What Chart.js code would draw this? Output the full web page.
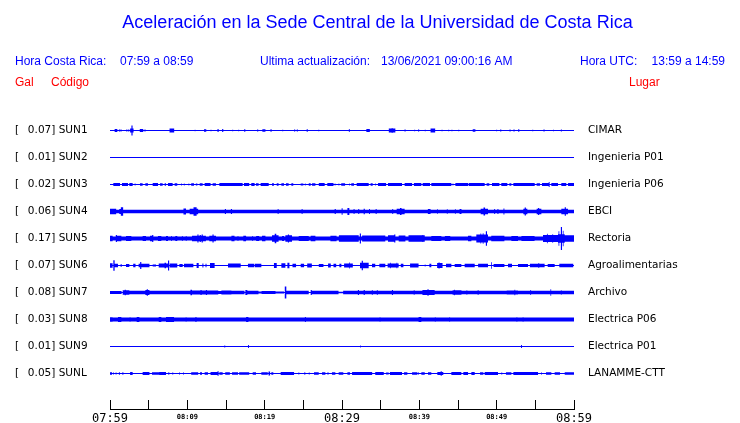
<!DOCTYPE html>
<html><head><meta charset="utf-8">
<script src="https://cdn.jsdelivr.net/npm/chart.js@4.4.1/dist/chart.umd.min.js"></script>
<style>html,body{margin:0;padding:0;background:#fff;}canvas{display:block;}</style>
</head><body>
<canvas id="c" width="740" height="423"></canvas>
<script>
// ---------------- data ----------------
const stations = ['SUN1','SUN2','SUN3','SUN4','SUN5','SUN6','SUN7','SUN8','SUN9','SUNL'];
const peakGal  = [0.07,0.01,0.02,0.06,0.17,0.07,0.08,0.03,0.01,0.05];
const places   = ['CIMAR','Ingenieria P01','Ingenieria P06','EBCI','Rectoria','Agroalimentarias','Archivo','Electrica P06','Electrica P01','LANAMME-CTT'];
const tickMinutes   = [0,5,10,15,20,25,30,35,40,45,50,55,60];
const labelMinutes  = [0,10,20,30,40,50,60];
const labelTimes    = ['07:59','08:09','08:19','08:29','08:39','08:49','08:59'];
const majorMinutes  = [0,30,60];

// envelopes: [start minute, end minute, half amplitude in Gal]
const SUN1 = [[0.6,0.95,0.021],[1.15,1.3,0.014],[1.35,1.5,0.014],[2.1,2.25,0.014],[2.35,2.5,0.014],[2.6,3.05,0.028],[2.77,2.92,0.07],[3.85,4.3,0.021],[4.45,4.6,0.014],[5.75,5.85,0.007],[7.7,8.3,0.028],[10.95,11.05,0.01],[12.15,12.45,0.018],[13.0,13.12,0.01],[13.9,14.05,0.021],[14.5,14.65,0.021],[15.8,15.93,0.01],[16.58,16.7,0.01],[17.35,17.5,0.018],[19.02,19.17,0.014],[19.7,20.1,0.018],[20.75,20.9,0.018],[22.27,22.4,0.01],[23.8,23.95,0.014],[24.15,24.3,0.014],[25.43,25.58,0.018],[26.93,27.06,0.01],[30.88,31.03,0.018],[33.15,33.6,0.021],[36.05,36.9,0.028],[36.4,36.6,0.032],[38.08,38.23,0.014],[39.33,39.46,0.01],[39.83,39.98,0.014],[40.7,40.83,0.01],[41.45,42.05,0.028],[42.87,43.0,0.01],[43.73,43.86,0.01],[44.15,44.28,0.01],[45.03,45.16,0.01],[46.9,47.25,0.018],[49.93,50.06,0.01],[50.45,50.6,0.014],[51.66,51.8,0.014],[52.17,52.32,0.014],[52.78,52.93,0.018],[54.6,54.73,0.01],[56.05,56.2,0.014],[57.27,57.4,0.01],[58.3,58.43,0.014]];
const SUN2 = [];
const SUN3 = [[0.43,1.29,0.021],[1.55,2.33,0.021],[2.5,2.93,0.021],[3.19,3.3,0.014],[3.88,4.22,0.018],[4.57,4.91,0.018],[5.52,6.21,0.021],[6.47,6.81,0.018],[7.07,7.24,0.018],[7.5,8.1,0.021],[8.36,8.7,0.018],[9.2,9.3,0.014],[9.55,9.65,0.014],[10.15,10.25,0.014],[10.5,10.86,0.018],[11.1,11.3,0.014],[11.6,11.98,0.018],[12.24,13.0,0.021],[13.27,13.7,0.018],[14.14,17.15,0.021],[17.33,18.0,0.021],[18.27,18.7,0.021],[18.88,19.22,0.018],[19.48,20.52,0.021],[20.95,21.2,0.018],[21.56,21.8,0.018],[22.16,22.5,0.018],[22.76,23.1,0.018],[23.45,23.7,0.018],[24.66,25.0,0.014],[25.2,25.3,0.014],[25.7,25.95,0.018],[26.13,26.56,0.018],[27.0,27.76,0.021],[28.1,28.9,0.021],[29.05,29.15,0.014],[29.55,29.65,0.014],[29.9,30.4,0.018],[30.9,31.0,0.014],[31.2,31.55,0.018],[31.9,33.45,0.021],[33.7,33.97,0.018],[34.3,34.4,0.014],[34.66,35.7,0.021],[35.95,37.76,0.021],[38.1,39.06,0.021],[39.3,40.26,0.021],[40.43,41.38,0.021],[41.55,44.14,0.021],[44.3,44.4,0.014],[44.66,46.3,0.021],[46.38,48.45,0.021],[48.7,49.05,0.018],[49.4,50.35,0.021],[50.6,51.38,0.021],[51.64,51.9,0.018],[52.16,54.92,0.021],[55.17,55.6,0.018],[55.86,56.73,0.021],[56.73,56.85,0.035],[57.07,57.93,0.021],[58.36,59.0,0.021],[59.23,60,0.021]];
const SUN4 = [[0,60,0.026],[0,0.8,0.038],[1.2,1.4,0.035],[1.4,1.7,0.06],[9.5,9.83,0.042],[10.3,11.4,0.038],[10.8,11.2,0.06],[14.85,15.0,0.035],[15.63,15.78,0.035],[21.68,21.8,0.035],[24.78,24.9,0.035],[29.05,29.2,0.035],[29.95,30.08,0.045],[30.7,30.95,0.05],[31.5,31.62,0.035],[32.1,32.23,0.035],[32.8,32.95,0.04],[33.5,33.62,0.035],[34.35,34.48,0.035],[36.5,36.62,0.035],[37.07,38.1,0.038],[37.5,37.7,0.05],[41.1,41.45,0.035],[42.28,42.4,0.03],[43.55,43.68,0.03],[44.6,44.73,0.03],[45.2,45.45,0.035],[47.93,48.88,0.04],[48.3,48.5,0.055],[49.68,49.8,0.035],[50.1,50.23,0.035],[50.88,51.0,0.042],[53.45,53.97,0.04],[53.62,53.78,0.055],[55.17,55.78,0.04],[55.35,55.5,0.05],[58.36,59.23,0.04],[58.8,58.95,0.06]];
const SUN5 = [[0,60,0.028],[0,0.34,0.037],[0.78,1.47,0.04],[0.75,0.9,0.05],[2.07,2.76,0.035],[4.22,4.66,0.035],[5.17,5.6,0.04],[5.45,5.6,0.05],[6.2,6.64,0.035],[7.24,7.5,0.035],[7.9,8.0,0.035],[8.45,8.7,0.035],[9.3,9.4,0.035],[9.8,9.9,0.035],[10.6,12.4,0.04],[11.3,11.45,0.055],[11.6,11.75,0.05],[11.85,12.0,0.055],[12.84,13.7,0.04],[13.25,13.4,0.055],[15.7,16.1,0.04],[16.5,16.6,0.035],[17.24,17.6,0.037],[18.4,18.5,0.035],[18.9,19.3,0.035],[19.66,20.1,0.04],[20.95,21.8,0.045],[21.3,21.5,0.065],[22.25,22.5,0.035],[22.68,23.54,0.045],[23.0,23.15,0.055],[24.4,25.7,0.035],[25.95,26.56,0.04],[28.5,29.3,0.04],[29.6,32.16,0.045],[32.3,32.45,0.07],[32.6,35.6,0.042],[35.95,36.9,0.045],[36.75,36.9,0.055],[37.33,38.2,0.042],[38.6,40.35,0.045],[40.2,40.7,0.045],[40.4,40.5,0.05],[41.55,42.85,0.035],[43.3,44.0,0.035],[46.3,46.73,0.04],[47.37,48.88,0.055],[47.9,48.0,0.07],[48.2,48.3,0.075],[48.6,48.75,0.1],[49.3,51.0,0.04],[51.9,52.76,0.035],[53.2,54.9,0.035],[55.99,57.93,0.05],[56.5,56.6,0.065],[57.2,57.3,0.06],[57.93,58.8,0.06],[58.0,58.1,0.1],[58.3,58.45,0.16],[58.55,58.65,0.11],[58.8,60,0.045]];
const SUN6 = [[0,0.34,0.03],[0.43,0.6,0.075],[0.6,1.03,0.025],[1.38,1.5,0.02],[2.07,2.5,0.02],[3.0,3.3,0.025],[3.7,5.1,0.025],[3.9,4.05,0.05],[5.52,5.95,0.014],[6.3,7.7,0.028],[7.05,7.25,0.04],[7.5,7.65,0.07],[7.76,8.7,0.028],[8.97,9.4,0.02],[9.57,10.78,0.025],[11.2,11.47,0.035],[11.95,12.08,0.028],[12.35,12.48,0.025],[12.93,13.53,0.035],[15.26,16.9,0.028],[17.84,18.62,0.025],[18.7,19.57,0.025],[21.2,21.56,0.035],[22.16,22.68,0.03],[22.94,23.2,0.04],[23.6,24.06,0.025],[24.66,25.1,0.025],[25.5,26.1,0.028],[27.0,27.6,0.02],[28.2,28.55,0.028],[28.9,29.25,0.025],[29.66,29.92,0.025],[30.27,31.4,0.028],[30.9,31.0,0.042],[32.33,33.45,0.04],[32.55,32.7,0.065],[33.88,34.3,0.025],[34.83,35.6,0.025],[35.9,37.33,0.028],[36.2,36.3,0.04],[37.05,37.15,0.04],[37.6,37.94,0.025],[38.8,39.9,0.028],[40.7,40.8,0.014],[41.3,41.55,0.025],[42.3,43.0,0.035],[42.5,42.6,0.045],[43.45,44.14,0.025],[44.57,45.43,0.02],[45.86,47.16,0.025],[47.6,48.88,0.025],[49.3,49.4,0.045],[49.6,51.0,0.02],[51.47,51.98,0.025],[52.76,54.05,0.02],[54.3,56.2,0.025],[55.4,55.5,0.035],[56.6,57.5,0.02],[58.1,59.9,0.025]];
const SUN7 = [[0,1.5,0.02],[1.64,2.5,0.03],[1.9,2.05,0.04],[2.5,4.57,0.025],[4.57,5.1,0.035],[4.75,4.9,0.045],[5.1,10.4,0.026],[10.4,10.6,0.04],[10.6,14.0,0.028],[11.7,11.85,0.035],[12.4,12.55,0.035],[14.0,14.4,0.02],[14.4,15.7,0.028],[15.7,17.4,0.025],[17.5,17.76,0.035],[17.76,19.2,0.025],[19.2,19.6,0.014],[19.6,21.4,0.022],[21.4,22.5,0.014],[22.6,22.8,0.084],[22.8,25.7,0.025],[25.95,26.1,0.035],[26.1,29.55,0.025],[29.55,30.15,0.01],[30.15,60,0.025],[32.05,32.2,0.035],[32.8,32.95,0.035],[33.85,34.0,0.03],[34.5,34.65,0.03],[36.45,36.6,0.035],[39.27,39.4,0.03],[40.4,41.98,0.035],[41.05,41.2,0.045],[44.3,45.45,0.03],[44.5,44.6,0.04],[46.1,46.2,0.03],[47.55,47.65,0.035],[51.3,52.76,0.028],[52.3,52.4,0.04],[54.35,54.45,0.035],[56.95,57.05,0.045],[58.3,58.4,0.03]];
const SUN8 = [[0,60,0.027],[0,0.34,0.03],[1.03,1.47,0.035],[2.53,2.66,0.03],[3.45,3.8,0.035],[6.3,6.64,0.035],[7.24,8.28,0.035],[9.78,9.9,0.03],[11.05,11.18,0.035],[17.6,17.9,0.035],[25.2,25.33,0.035],[34.85,34.98,0.03],[39.9,40.26,0.035],[42.0,42.13,0.03],[43.85,43.98,0.03],[52.55,52.68,0.03],[53.35,53.48,0.03]];
const SUN9 = [[14.78,14.9,0.014],[17.85,17.97,0.021],[32.35,32.45,0.014],[53.15,53.27,0.021]];
const SUNL = [[0,0.26,0.018],[0.38,0.5,0.014],[0.72,0.85,0.014],[1.15,1.28,0.018],[1.6,1.73,0.018],[2.6,2.93,0.021],[4.22,5.1,0.021],[5.43,6.38,0.018],[6.38,7.24,0.021],[7.5,7.68,0.014],[8.05,8.18,0.014],[8.93,9.05,0.014],[9.45,9.57,0.014],[10.5,11.4,0.018],[11.64,11.9,0.018],[12.24,12.67,0.018],[13.0,13.9,0.02],[13.9,14.05,0.033],[14.14,14.57,0.018],[14.9,15.5,0.018],[15.78,16.55,0.018],[16.7,18.0,0.018],[18.45,18.88,0.018],[19.57,20.4,0.018],[20.5,20.7,0.028],[20.86,21.12,0.018],[22.07,23.8,0.02],[24.36,24.48,0.014],[25.09,25.27,0.014],[25.7,25.82,0.014],[26.38,26.99,0.018],[27.42,27.85,0.018],[28.1,28.28,0.014],[28.7,29.14,0.018],[29.57,30.17,0.018],[30.7,31.04,0.018],[31.3,33.9,0.02],[34.3,35.4,0.02],[35.7,36.04,0.014],[36.2,37.76,0.02],[38.02,38.45,0.018],[39.06,39.75,0.018],[39.83,39.95,0.014],[40.26,40.7,0.018],[41.12,41.55,0.018],[42.33,43.1,0.021],[42.76,42.9,0.033],[44.14,45.43,0.02],[45.69,46.3,0.02],[46.73,47.16,0.02],[47.85,48.28,0.018],[48.45,50.17,0.02],[50.6,50.72,0.014],[51.2,51.9,0.018],[52.16,55.35,0.02],[55.74,55.86,0.014],[56.38,57.07,0.018],[57.5,58.19,0.018],[58.8,60,0.018]];
const traces = [SUN1,SUN2,SUN3,SUN4,SUN5,SUN6,SUN7,SUN8,SUN9,SUNL];

const titleText = 'Aceleración en la Sede Central de la Universidad de Costa Rica';
const headerTexts = ['Hora Costa Rica:','07:59 a 08:59','Ultima actualización:','13/06/2021 09:00:16 AM','Hora UTC:','13:59 a 14:59'];
const columnTexts = ['Gal','Código','Lugar'];

// ---------------- layout ----------------
const BLUE = '#0000ff';
const ROW_GAP = 0.378;           // Gal between trace baselines
const Y_MAX = 0.287, Y_MIN = -3.899;
const T0 = 0, T1 = 60;
const rowOffset = i => -i * ROW_GAP;

function stepEnvelope(segs) {
  const edges = new Set([T0, T1]);
  segs.forEach(s => { edges.add(s[0]); edges.add(s[1]); });
  const xs = [...edges].sort((a, b) => a - b);
  return xs.map(x => ({ x, a: segs.reduce((m, s) => (s[0] <= x && x < s[1]) ? Math.max(m, s[2]) : m, 0) }));
}

const datasets = [];
traces.forEach((segs, i) => {
  const off = rowOffset(i);
  const env = stepEnvelope(segs);
  datasets.push({ data: [{x:T0,y:off},{x:T1,y:off}], borderColor: BLUE, borderWidth: 1, pointRadius: 0, fill: false });
  [1, -1].forEach(sgn => datasets.push({
    data: env.map(p => ({ x: p.x, y: off + sgn * p.a })),
    stepped: 'before', borderWidth: 0, borderColor: 'rgba(0,0,0,0)', backgroundColor: BLUE,
    pointRadius: 0, fill: { value: off }
  }));
});

const leftLabels = stations.map((s, i) => '[\u00a0\u00a0\u2009' + peakGal[i].toFixed(2) + '] ' + s);

const textPlugin = {
  id: 'texts',
  afterDraw(chart) {
    const c = chart.ctx;
    c.save();
    c.textBaseline = 'alphabetic';
    c.fillStyle = BLUE;
    c.font = '18px "Liberation Sans", Arial, sans-serif';
    c.textAlign = 'center';
    c.fillText(titleText, 377.5, 28);
    c.font = '12px "Liberation Sans", Arial, sans-serif';
    c.textAlign = 'left';
    c.fillText(headerTexts[0], 15, 65);
    c.fillText(headerTexts[1], 120, 65);
    c.fillText(headerTexts[2], 260, 65);
    c.fillText(headerTexts[3], 381, 65);
    c.fillText(headerTexts[4], 580, 65);
    c.textAlign = 'right';
    c.fillText(headerTexts[5], 725, 65);
    c.fillStyle = '#ff0000';
    c.textAlign = 'left';
    c.fillText(columnTexts[0], 15, 86);
    c.fillText(columnTexts[1], 51, 86);
    c.fillText(columnTexts[2], 629, 86);
    c.restore();
  }
};

const noPad = s => { s.paddingTop = 0; s.paddingBottom = 0; };
const yCommon = {
  type: 'linear', min: Y_MIN, max: Y_MAX,
  afterBuildTicks: s => { s.ticks = stations.map((_, i) => ({ value: rowOffset(i) })); },
  grid: { display: false, drawTicks: false }, border: { display: false }
};

new Chart(document.getElementById('c'), {
  type: 'line',
  data: { datasets },
  options: {
    responsive: false, animation: false, events: [],
    layout: { padding: { left: 15, right: 0, top: 110, bottom: 0 } },
    plugins: { legend: { display: false }, tooltip: { enabled: false } },
    scales: {
      x: {
        type: 'linear', min: T0, max: T1,
        afterBuildTicks: s => { s.ticks = tickMinutes.map(v => ({ value: v })); },
        afterFit: s => { s.height = 14; s.paddingLeft = 0; s.paddingRight = 0; },
        grid: { display: true, drawOnChartArea: false, drawTicks: true, tickLength: -9, color: '#000', lineWidth: 1 },
        border: { display: true, color: '#000', width: 1 },
        ticks: {
          autoSkip: false, maxRotation: 0, padding: 12, color: '#000',
          callback: v => { const k = labelMinutes.indexOf(v); return k >= 0 ? labelTimes[k] : ''; },
          font: ctx => (ctx.tick && majorMinutes.includes(ctx.tick.value))
            ? { family: 'DejaVu Sans Mono', size: 12, lineHeight: 1.2 }
            : { family: 'DejaVu Sans Mono', size: 7, weight: 'bold', lineHeight: 1.6 }
        }
      },
      y: Object.assign({}, yCommon, {
        position: 'left',
        afterFit: s => { s.width = 95; noPad(s); },
        ticks: { autoSkip: false, crossAlign: 'far', padding: 0, color: '#000',
          font: { family: 'DejaVu Sans', size: 10.5 }, callback: (v, i) => leftLabels[i] }
      }),
      yR: Object.assign({}, yCommon, {
        position: 'right',
        afterFit: s => { s.width = 166; noPad(s); },
        ticks: { autoSkip: false, crossAlign: 'near', padding: 14, color: '#000',
          font: { family: 'DejaVu Sans', size: 10.5 }, callback: (v, i) => places[i] }
      })
    }
  },
  plugins: [textPlugin]
});
</script>
</body></html>
